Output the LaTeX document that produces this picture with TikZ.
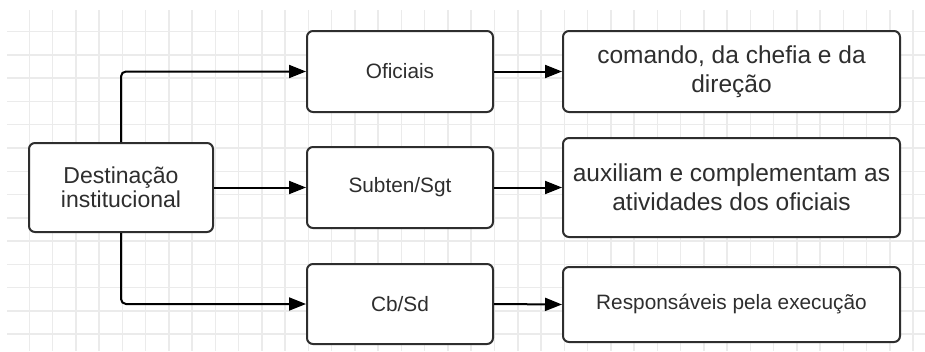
\documentclass[tikz,border=0pt]{standalone}
\usepackage{fontspec}
\setmainfont{Liberation Sans}
\usetikzlibrary{arrows.meta}
\definecolor{ink}{HTML}{2E2E2E}
\definecolor{gridgray}{HTML}{EBEBEB}
\tikzset{
  gridline/.style={draw=gridgray, line width=1.5pt},
  box/.style={draw=ink, line width=2pt, rounded corners=6pt, fill=white,
              inner sep=0pt, align=center, text=ink},
  smalltext/.style={font=\fontsize{20.8}{24}\selectfont},
  midtext/.style={font=\fontsize{23}{24.5}\selectfont},
  bigtext/.style={font=\fontsize{24.5}{29}\selectfont},
  link/.style={draw=black, line width=2pt, rounded corners=5pt,
               -{Triangle[length=17pt, width=13pt]}},
}
\begin{document}
\begin{tikzpicture}[x=1pt, y=-1pt]
  \useasboundingbox (0,0) rectangle (925,351);
  \fill[white] (0,0) rectangle (925,351);

  % background grid
  \foreach \k in {0,...,13}
    \draw[gridline] (7,{31.7+23.26*\k}) -- (925,{31.7+23.26*\k});
  \foreach \k in {0,...,38}
    \draw[gridline] ({29.3+23.26*\k},10) -- ({29.3+23.26*\k},351);

  % boxes
  \node[box, midtext, minimum width=184pt, minimum height=89pt] (dest) at (121,187.5)
    {Destinação\\institucional};

  \node[box, smalltext, minimum width=186pt, minimum height=81pt] (ofi) at (400,71.5) {Oficiais};
  \node[box, smalltext, minimum width=186pt, minimum height=81pt] (sub) at (400,187.5) {Subten/Sgt};
  \node[box, smalltext, minimum width=186pt, minimum height=80pt] (cb)  at (400,304) {Cb/Sd};

  \node[box, bigtext, minimum width=337pt, minimum height=81pt] (r1) at (731.5,71.5)
    {comando, da chefia e da\\direção};
  \node[box, bigtext, minimum width=337pt, minimum height=99pt] (r2) at (731.5,187.5)
    {auxiliam e complementam as\\atividades dos oficiais};
  \node[box, smalltext, minimum width=337pt, minimum height=75pt] (r3) at (731.5,304.5)
    {Responsáveis pela execução};

  % connectors
  \draw[link] (dest.north) |- (ofi.west);
  \draw[link] (dest.east) -- (sub.west);
  \draw[link] (dest.south) |- (cb.west);

  \draw[link] (ofi.east) -- (r1.west);
  \draw[link] (sub.east) -- (r2.west);
  \draw[link] (cb.east)  -- (r3.west);
\end{tikzpicture}
\end{document}
